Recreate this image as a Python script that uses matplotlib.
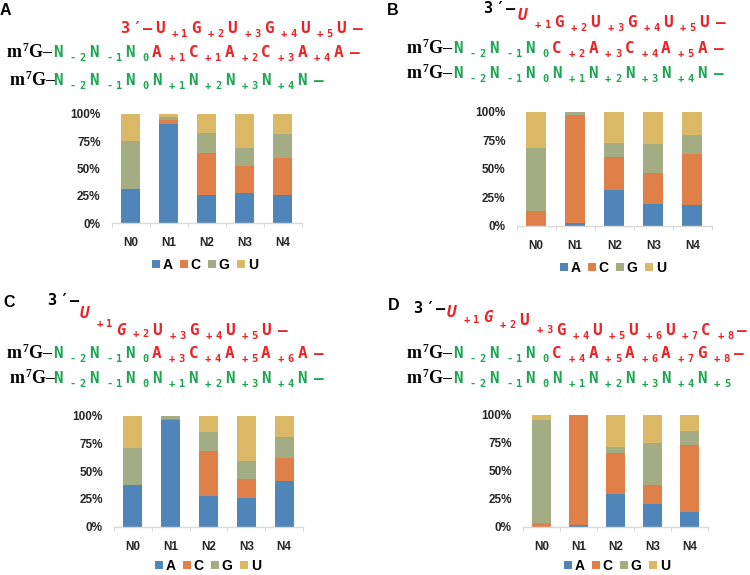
import matplotlib
matplotlib.use('Agg')
import matplotlib.pyplot as plt
from matplotlib.patches import Patch
import numpy as np

# ---------------- data ----------------
positions = ['N0', 'N1', 'N2', 'N3', 'N4']
bases = ['A', 'C', 'G', 'U']
base_colors = ['#5085b9', '#de8048', '#a3ac83', '#dbb865']
yticks = [0, 0.25, 0.5, 0.75, 1.0]
ytick_labels = ['0%', '25%', '50%', '75%', '100%']

# panel A
A_A = [0.316, 0.909, 0.255, 0.274, 0.258]
A_C = [0.000, 0.033, 0.386, 0.246, 0.338]
A_G = [0.434, 0.031, 0.186, 0.167, 0.222]
A_U = [0.250, 0.027, 0.173, 0.313, 0.182]
# panel B
B_A = [0.000, 0.026, 0.318, 0.195, 0.187]
B_C = [0.134, 0.948, 0.285, 0.269, 0.446]
B_G = [0.548, 0.020, 0.123, 0.256, 0.160]
B_U = [0.318, 0.006, 0.274, 0.280, 0.207]
# panel C
C_A = [0.372, 0.961, 0.276, 0.261, 0.411]
C_C = [0.000, 0.009, 0.409, 0.165, 0.208]
C_G = [0.334, 0.024, 0.168, 0.169, 0.192]
C_U = [0.294, 0.006, 0.147, 0.405, 0.189]
# panel D
D_A = [0.000, 0.015, 0.289, 0.205, 0.131]
D_C = [0.036, 0.985, 0.369, 0.164, 0.598]
D_G = [0.919, 0.000, 0.056, 0.375, 0.128]
D_U = [0.045, 0.000, 0.286, 0.256, 0.143]

panel_letters = ['A', 'B', 'C', 'D']

# header sequences (main letter + {subscript})
A_line1 = "U{+1}G{+2}U{+3}G{+4}U{+5}U–"
A_line2_green = "N{-2}N{-1}N{0}"
A_line2_red = "A{+1}C{+1}A{+2}C{+3}A{+4}A–"
A_line3 = "N{-2}N{-1}N{0}N{+1}N{+2}N{+3}N{+4}N–"

B_line1 = "U{+1}G{+2}U{+3}G{+4}U{+5}U–"
B_line2_green = "N{-2}N{-1}N{0}"
B_line2_red = "C{+2}A{+3}C{+4}A{+5}A–"
B_line3 = "N{-2}N{-1}N{0}N{+1}N{+2}N{+3}N{+4}N–"

C_line1 = "U{+1}G{+2}U{+3}G{+4}U{+5}U–"
C_line2_green = "N{-2}N{-1}N{0}"
C_line2_red = "A{+3}C{+4}A{+5}A{+6}A–"
C_line3 = "N{-2}N{-1}N{0}N{+1}N{+2}N{+3}N{+4}N–"

D_line1 = "U{+1}G{+2}U{+3}G{+4}U{+5}U{+6}U{+7}C{+8}–"
D_line2_green = "N{-2}N{-1}N{0}"
D_line2_red = "C{+4}A{+5}A{+6}A{+7}G{+8}–"
D_line3 = "N{-2}N{-1}N{0}N{+1}N{+2}N{+3}N{+4}N{+5}"

three_prime = "3′–"

# ---------------- drawing ----------------
RED = '#ec2227'
GREEN = '#1ca552'
MONO = ['DejaVu Sans Mono', 'Liberation Mono']
SERIF = ['Liberation Serif', 'DejaVu Serif']
SANS = ['Liberation Sans', 'DejaVu Sans']
W, H = 750, 575
MAIN_ADV = 16.7
SUB_ADV = 9.8

fig = plt.figure(figsize=(7.5, 5.75), dpi=100)
renderer = fig.canvas.get_renderer()


def put(x, y, s, size, color, family, weight='bold', style='normal'):
    return fig.text(x / W, 1 - y / H, s, fontsize=size, color=color,
                    family=family, weight=weight, style=style,
                    ha='left', va='baseline')


def wid(t):
    return t.get_window_extent(renderer).width


def parse(spec):
    groups = []
    i = 0
    while i < len(spec):
        m = spec[i]
        i += 1
        sub = ''
        if i < len(spec) and spec[i] == '{':
            j = spec.index('}', i)
            sub = spec[i + 1:j]
            i = j + 1
        groups.append((m, sub))
    return groups


def draw_groups(x, base, spec, color, offsets=None, n_italic=0):
    for i, (m, s) in enumerate(parse(spec)):
        dm, ds = (0, 4)
        if offsets and i < len(offsets):
            dm, ds = offsets[i]
        put(x, base + dm, m, 11.5, color, MONO,
            style='oblique' if i < n_italic else 'normal')
        x += MAIN_ADV
        for c in s:
            put(x, base + ds, c, 7.5, color, MONO)
            x += SUB_ADV
    return x


def draw_three_prime(x, base, color):
    for c in three_prime:
        put(x, base, c, 11, color, MONO)
        x += 11.7
    return x


def draw_m7g(x, base):
    t = put(x, base, 'm', 13, 'black', SERIF)
    x += wid(t)
    t = put(x, base - 6, '7', 8.5, 'black', SERIF)
    x += wid(t)
    t = put(x, base, 'G', 13, 'black', SERIF)
    x += wid(t)
    put(x, base, '–', 13, 'black', SERIF)


# panel letters
put(0, 15, panel_letters[0], 11.5, 'black', SANS)
put(387, 15, panel_letters[1], 11.5, 'black', SANS)
put(3, 307, panel_letters[2], 11.5, 'black', SANS)
put(388, 310, panel_letters[3], 11.5, 'black', SANS)

# Panel A headers
draw_three_prime(120, 33, RED)
draw_groups(155, 33, A_line1, RED)
draw_m7g(7, 57)
x = draw_groups(53, 57, A_line2_green, GREEN)
draw_groups(x, 57, A_line2_red, RED)
draw_m7g(10, 85)
draw_groups(53, 85, A_line3, GREEN)

# Panel B headers
draw_three_prime(483, 13, 'black')
draw_groups(518, 27, B_line1, RED, offsets=[(-7, 1), (0, 4)], n_italic=1)
draw_m7g(407, 53)
x = draw_groups(453, 53, B_line2_green, GREEN)
draw_groups(x, 53, B_line2_red, RED)
draw_m7g(407, 78)
draw_groups(453, 78, B_line3, GREEN)

# Panel C headers
draw_three_prime(47, 305, 'black')
draw_groups(80, 335, C_line1, RED, offsets=[(-17, -8), (0, 2)], n_italic=2)
draw_m7g(7, 358)
x = draw_groups(53, 358, C_line2_green, GREEN)
draw_groups(x, 358, C_line2_red, RED)
draw_m7g(10, 383)
draw_groups(53, 383, C_line3, GREEN)

# Panel D headers
draw_three_prime(413, 313, 'black')
draw_groups(447, 335, D_line1, RED,
            offsets=[(-18, -12), (-13, -7), (-10, -2)], n_italic=2)
draw_m7g(407, 358)
x = draw_groups(453, 358, D_line2_green, GREEN)
draw_groups(x, 358, D_line2_red, RED)
draw_m7g(407, 383)
draw_groups(453, 383, D_line3, GREEN)


def make_panel(rect, series, legend_xy):
    left, right, top, bottom = rect
    ax = fig.add_axes([left / W, 1 - bottom / H, (right - left) / W, (bottom - top) / H])
    xs = np.arange(len(positions))
    acc = np.zeros(len(positions))
    for vals, col, lab in zip(series, base_colors, bases):
        v = np.array(vals)
        ax.bar(xs, v, 0.5, bottom=acc, color=col, label=lab, linewidth=0)
        acc += v
    ax.set_xlim(-0.5, len(positions) - 0.5)
    ax.set_ylim(0, 1)
    for s in ['top', 'right', 'left']:
        ax.spines[s].set_visible(False)
    ax.spines['bottom'].set_color('#d9d9d9')
    ax.spines['bottom'].set_linewidth(1)
    ax.set_yticks(yticks)
    ax.set_yticklabels(ytick_labels, fontweight='bold', fontsize=8.5, color='#262626', family=SANS)
    ax.tick_params(axis='y', length=0, pad=8)
    ax.set_xticks(xs)
    ax.set_xticklabels(positions, fontweight='bold', fontsize=8.5, color='#262626', family=SANS)
    ax.tick_params(axis='x', which='major', length=0, pad=10)
    ax.set_xticks(np.arange(-0.5, len(positions), 1.0), minor=True)
    ax.tick_params(axis='x', which='minor', length=3, color='#d9d9d9', width=0.8)
    handles = [Patch(facecolor=c, edgecolor='none', label=b) for b, c in zip(bases, base_colors)]
    ax.legend(handles=handles, loc='center',
              bbox_to_anchor=(legend_xy[0] / W, 1 - legend_xy[1] / H),
              bbox_transform=fig.transFigure, ncol=4, frameon=False,
              handlelength=0.55, handleheight=0.55, handletextpad=0.2,
              columnspacing=0.55, borderpad=0,
              prop={'weight': 'bold', 'size': 10, 'family': SANS})
    return ax


make_panel((111.7, 301.7, 113.7, 223.3), [A_A, A_C, A_G, A_U], (205, 265))
make_panel((516.7, 711.7, 111.7, 226.0), [B_A, B_C, B_G, B_U], (613, 268))
make_panel((114.0, 303.0, 415.7, 526.7), [C_A, C_C, C_G, C_U], (208, 566))
make_panel((523.0, 708.0, 414.7, 526.7), [D_A, D_C, D_G, D_U], (617, 566))

fig.savefig('out.png', dpi=100)
